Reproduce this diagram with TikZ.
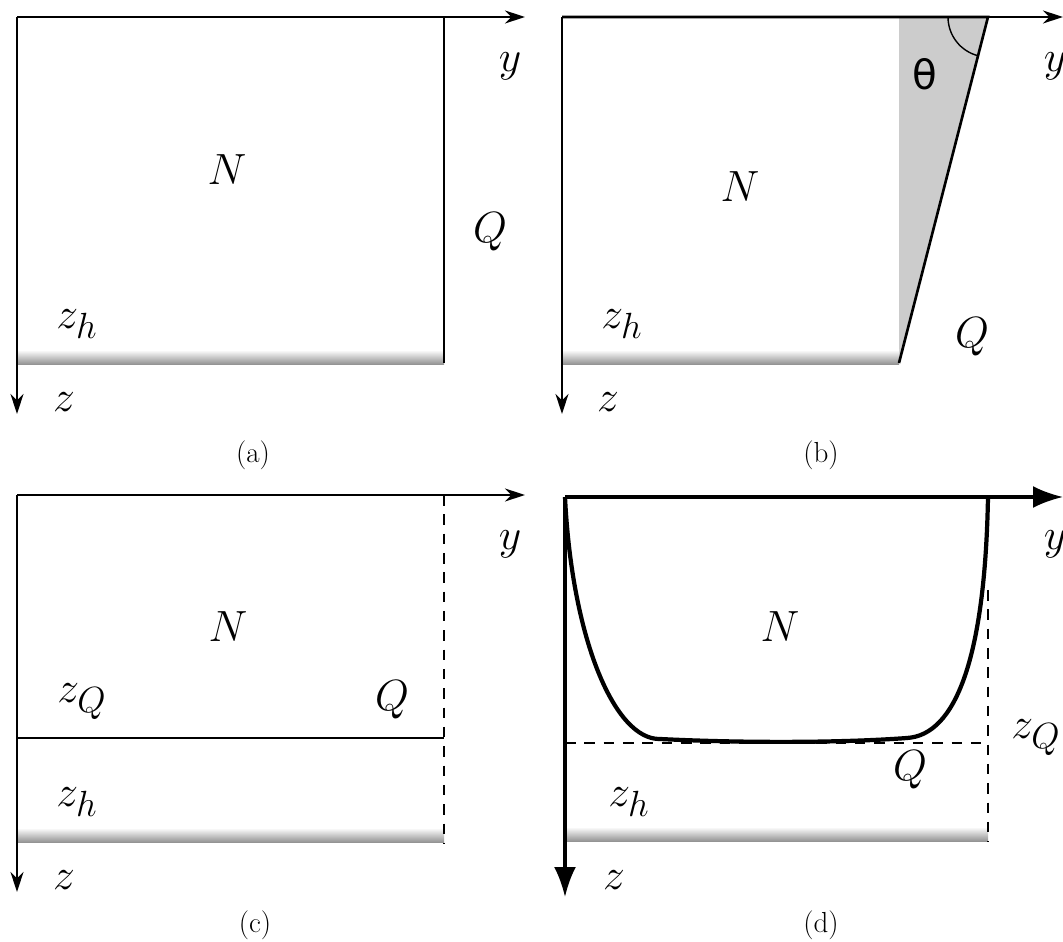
\documentclass[tikz,border=0pt]{standalone}
\usepackage{fontspec}
\newfontfamily\greekfont{DejaVu Sans}
\usetikzlibrary{arrows.meta}
\tikzset{
	axis/.style={-{Stealth[length=4mm, width=2.6mm]}, line width=0.9pt},
	boldaxis/.style={-{Latex[length=6mm, width=4.4mm]}, line width=1.8pt},
	wall/.style={line width=1.5pt},
	bank/.style={line width=2.4pt},
	guide/.style={dashed, line width=0.8pt, dash pattern=on 6pt off 5pt},
	sediment/.style={top color=white, bottom color=black!45},
	sym/.style={font=\fontsize{29}{32}\selectfont},
	caption/.style={font=\fontsize{16.5}{18}\selectfont},
}
\begin{document}
\begin{tikzpicture}[x=0.02cm, y=0.02cm]
	\useasboundingbox (0,0) rectangle (1063,-942);
	% (a) vertical wall
	\shade[sediment] (17,-350) rectangle (444,-365);
	\draw[wall] (17,-17) -- (444,-17) -- (444,-363);
	\draw[axis] (17,-17) -- (525,-17);
	\draw[axis] (17,-17) -- (17,-414);
	\node[sym] (ya) at (510,-66) {$y$};
	\node[sym] (za) at (64,-402) {$z$};
	\node[sym] (Na) at (227,-170) {$N$};
	\node[sym] (Qa) at (490,-232) {$Q$};
	\node[sym] (zha) at (77,-324) {$z_h$};
	\node[caption] (capa) at (253,-455) {(a)};
	% (b) inclined wall
	\fill[black!20] (899,-17) -- (988,-17) -- (899,-363) -- cycle;
	\shade[sediment] (562,-350) rectangle (899,-365);
	\draw[wall] (562,-17) -- (988,-17) -- (899,-363);
	\draw[line width=0.8pt] (948,-17) arc[start angle=180, end angle=256, radius=40];
	\draw[axis] (562,-17) -- (1063,-17);
	\draw[axis] (562,-17) -- (562,-414);
	\node[font=\greekfont\fontsize{23}{25}\selectfont] (th) at (925,-74) {θ};
	\node[sym] (yb) at (1055,-66) {$y$};
	\node[sym] (zb) at (608,-402) {$z$};
	\node[sym] (Nb) at (740,-187) {$N$};
	\node[sym] (Qb) at (972,-337) {$Q$};
	\node[sym] (zhb) at (622,-324) {$z_h$};
	\node[caption] (capb) at (821,-455) {(b)};
	% (c) horizontal interface
	\shade[sediment] (17,-828) rectangle (444,-843);
	\draw[wall] (17,-495) -- (444,-495);
	\draw[wall] (17,-738) -- (444,-738);
	\draw[guide] (444,-495) -- (444,-843);
	\draw[axis] (17,-495) -- (525,-495);
	\draw[axis] (17,-495) -- (17,-892);
	\node[sym] (yc) at (510,-544) {$y$};
	\node[sym] (zc) at (64,-880) {$z$};
	\node[sym] (Nc) at (228,-627) {$N$};
	\node[sym] (zQc) at (82,-702) {$z_Q$};
	\node[sym] (Qc) at (392,-700) {$Q$};
	\node[sym] (zhc) at (77,-802) {$z_h$};
	\node[caption] (capc) at (255,-925) {(c)};
	% (d) curved interface
	\shade[sediment] (565,-827) rectangle (988,-842);
	\draw[guide] (565,-743) -- (988,-743);
	\draw[guide] (988,-590) -- (988,-842);
	\draw[bank] (565,-497) .. controls (572,-640) and (615,-740) .. (660,-739)
		.. controls (740,-743) and (840,-743) .. (907,-738)
		.. controls (955,-735) and (985,-660) .. (988,-497);
	\draw[boldaxis] (565,-497) -- (1063,-497);
	\draw[boldaxis] (565,-497) -- (565,-897);
	\node[sym] (yd) at (1055,-544) {$y$};
	\node[sym] (zd) at (614,-880) {$z$};
	\node[sym] (Nd) at (780,-627) {$N$};
	\node[sym] (zQd) at (1036,-738) {$z_Q$};
	\node[sym] (Qd) at (910,-770) {$Q$};
	\node[sym] (zhd) at (629,-802) {$z_h$};
	\node[caption] (capd) at (821,-925) {(d)};
\end{tikzpicture}
\end{document}
